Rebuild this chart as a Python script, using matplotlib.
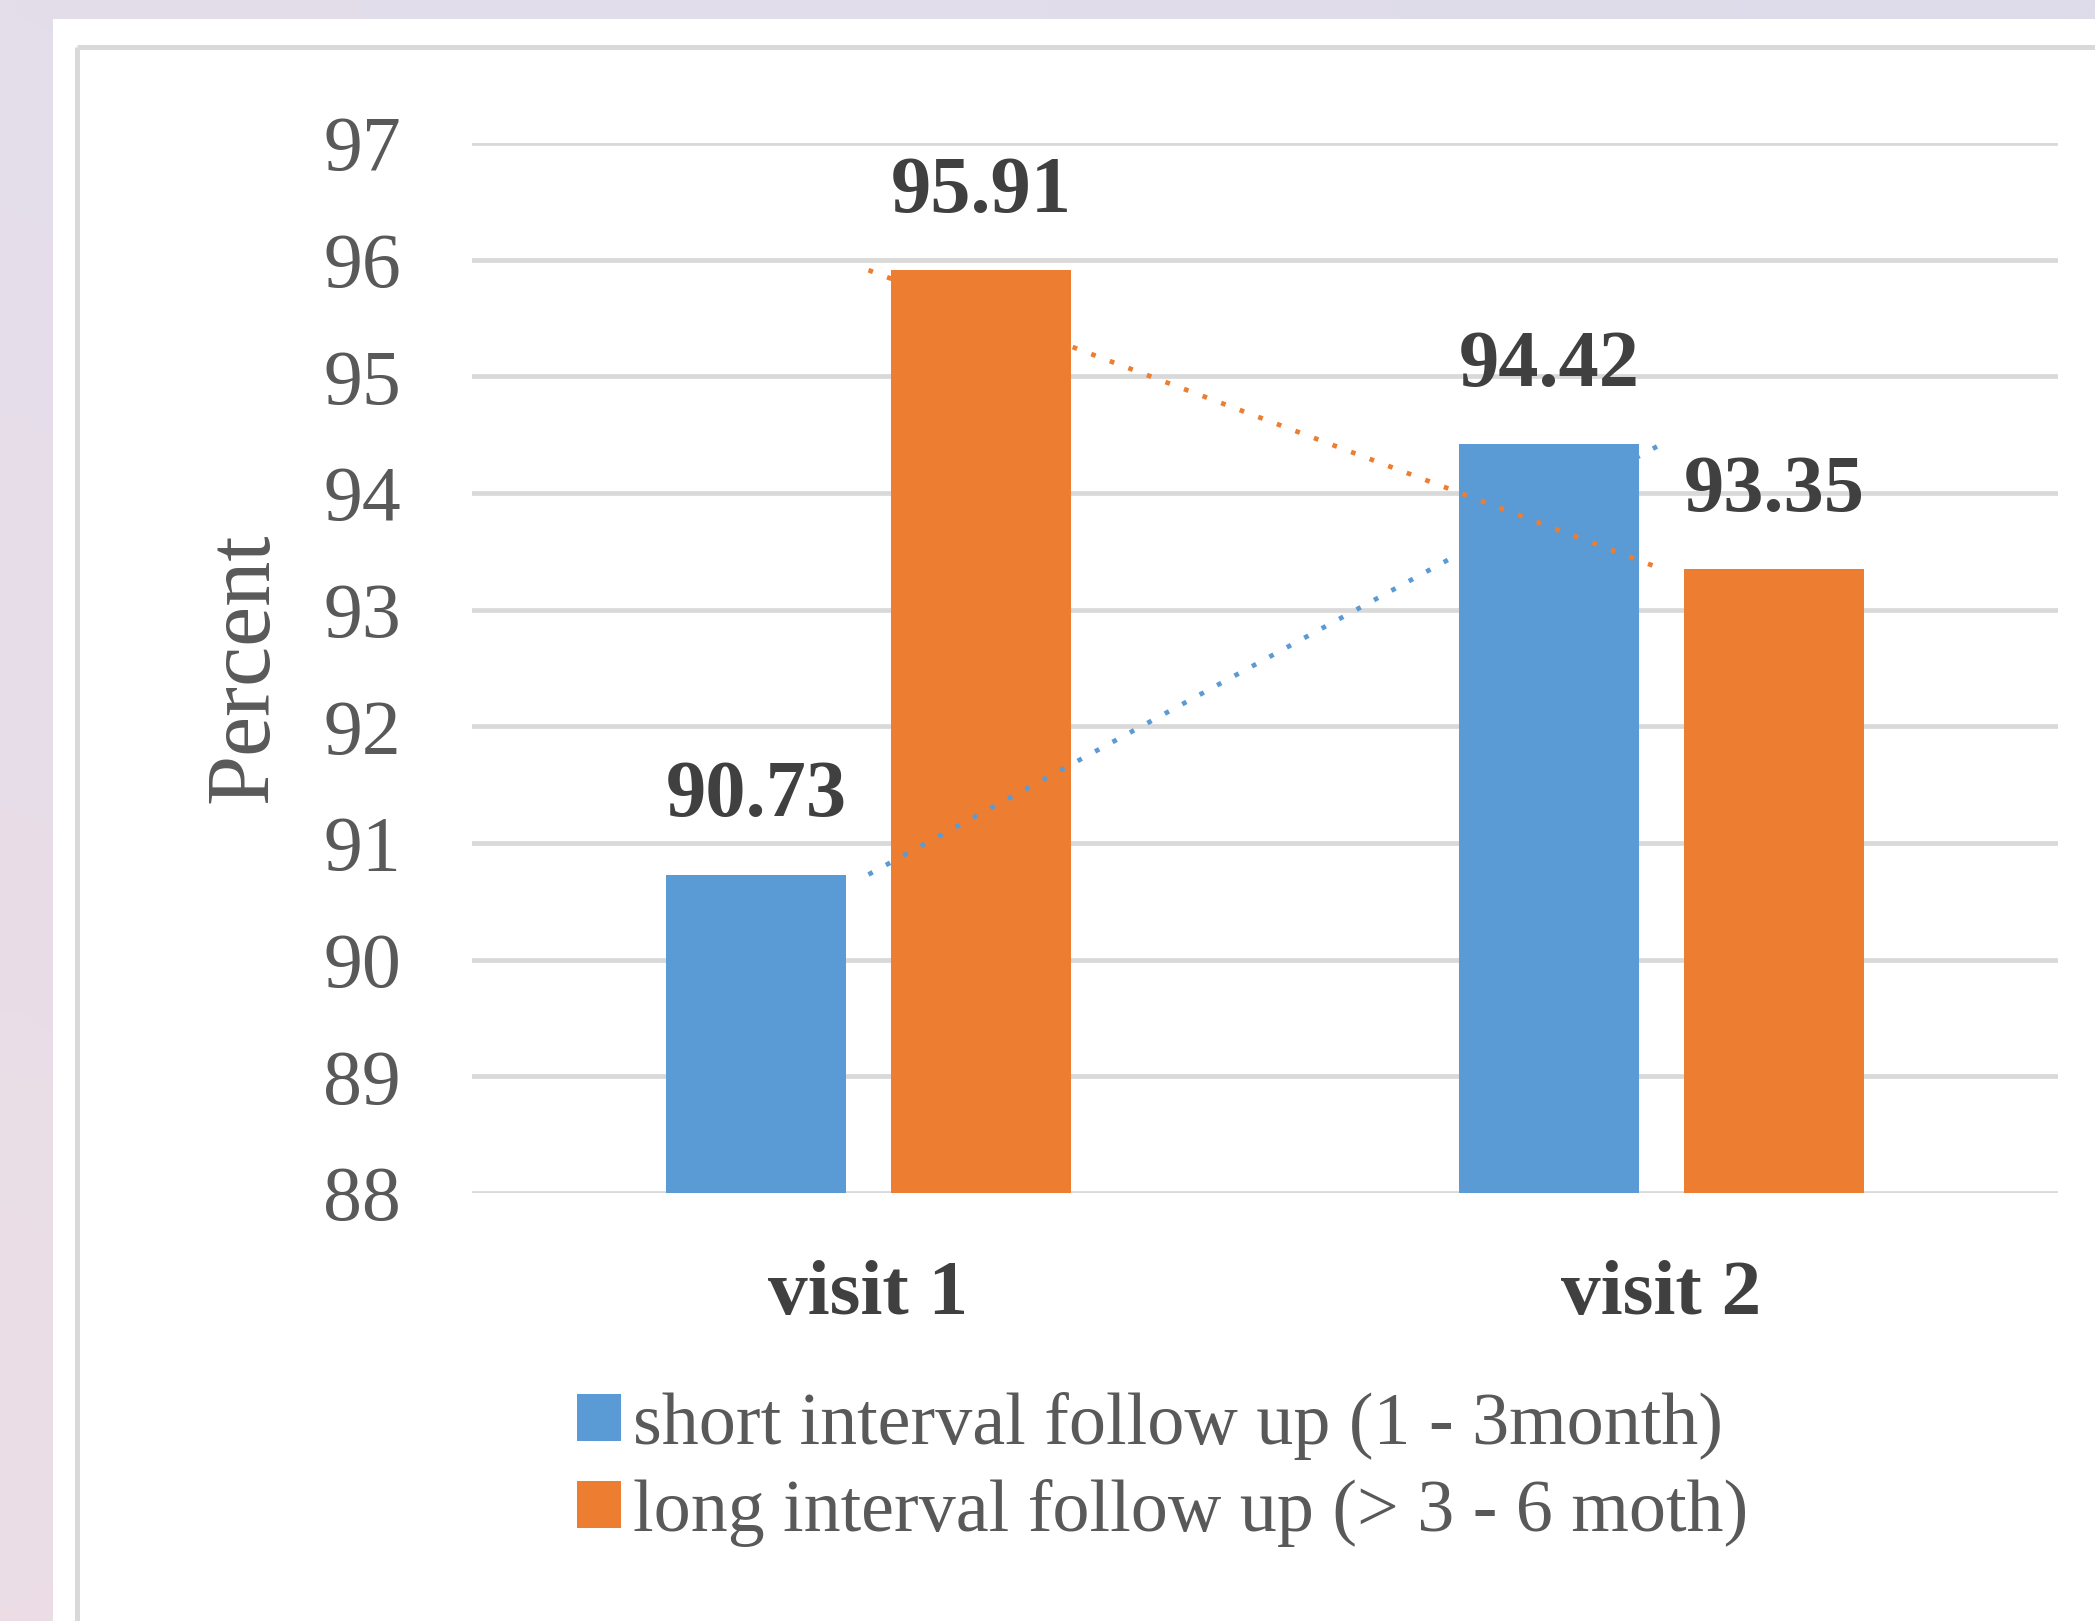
import numpy as np
import matplotlib
matplotlib.use("Agg")
import matplotlib.pyplot as plt
from matplotlib.patches import Rectangle

# ---- data ----
categories = ["visit 1", "visit 2"]
series_names = ["short interval follow up (1 - 3month)",
                "long interval follow up (> 3 - 6 moth)"]
short_interval = [90.73, 94.42]
long_interval = [95.91, 93.35]
y_ticks = [88, 89, 90, 91, 92, 93, 94, 95, 96, 97]

BLUE = "#5B9BD5"
ORANGE = "#ED7D31"
GRID = "#D9D9D9"
TXT = "#595959"
TXT_DARK = "#404040"

plt.rcParams["font.family"] = ["Liberation Serif", "DejaVu Serif"]

W, H = 2095, 1621
fig = plt.figure(figsize=(W / 100, H / 100), dpi=100)

# ---- page background: soft lavender gradient, white card, grey frame ----
bg = fig.add_axes([0, 0, 1, 1], zorder=-10)
bg.set_xlim(0, W)
bg.set_ylim(H, 0)
bg.axis("off")
tl = np.array([0xE4, 0xDE, 0xEB]) / 255
tr = np.array([0xDE, 0xDC, 0xEA]) / 255
bl = np.array([0xEC, 0xDD, 0xE5]) / 255
br = np.array([0xE5, 0xDC, 0xE8]) / 255
u = np.linspace(0, 1, 64)[None, :, None]
v = np.linspace(0, 1, 64)[:, None, None]
grad = (1 - v) * ((1 - u) * tl + u * tr) + v * ((1 - u) * bl + u * br)
bg.imshow(grad, extent=(0, W, H, 0), aspect="auto", interpolation="bilinear")
bg.add_patch(Rectangle((53, 19), W, H, facecolor="white", edgecolor="none"))
bg.plot([76.5, 76.5], [46.5, H + 10], color=GRID, lw=3.6, solid_capstyle="butt")
bg.plot([76.5, W + 10], [46.5, 46.5], color=GRID, lw=3.6, solid_capstyle="butt")

# ---- chart ----
ax = fig.add_axes([472 / W, 1 - 1193 / H, (2058 - 472) / W, (1193 - 143) / H])
ax.set_facecolor("none")
x = np.arange(len(categories))
bw = 0.227
off = 0.142
b1 = ax.bar(x - off, short_interval, bw, bottom=0, color=BLUE, zorder=2,
            label=series_names[0])
b2 = ax.bar(x + off, long_interval, bw, bottom=0, color=ORANGE, zorder=2,
            label=series_names[1])

# dotted linear trend per series
dots = (0, (1, 3.2))
ax.plot(x, short_interval, linestyle=dots, color=BLUE, lw=3.4, zorder=3)
ax.plot(x, long_interval, linestyle=dots, color=ORANGE, lw=3.4, zorder=3)

ax.set_xlim(-0.5, len(categories) - 0.5)
ax.set_ylim(y_ticks[0], y_ticks[-1])
ax.set_yticks(y_ticks)
ax.set_xticks(x)
ax.set_xticklabels(categories, fontsize=57, fontweight="bold", color=TXT_DARK)
ax.tick_params(axis="y", length=0, pad=51, labelsize=56, labelcolor=TXT)
ax.tick_params(axis="x", length=0, pad=48)
ax.yaxis.grid(True, color=GRID, lw=3.4, zorder=0)
ax.set_axisbelow(True)
for s in ax.spines.values():
    s.set_visible(False)

for bars, vals in ((b1, short_interval), (b2, long_interval)):
    for rect, val in zip(bars, vals):
        ax.annotate(f"{val:.2f}", (rect.get_x() + rect.get_width() / 2, val),
                    xytext=(0, 56), textcoords="offset points",
                    ha="center", va="center", fontsize=58, fontweight="bold",
                    color=TXT_DARK, zorder=4, annotation_clip=False)

fig.text(245 / W, 1 - 668 / H, "Percent", rotation=90, ha="center", va="center",
         fontsize=65, color=TXT)

leg = fig.legend(handles=[b1, b2], labels=series_names, loc="upper left",
                 bbox_to_anchor=(577 / W, 1 - 1392 / H), frameon=False,
                 fontsize=53.3, handlelength=0.6, handleheight=0.6,
                 handletextpad=0.15, labelspacing=0.25, borderpad=0,
                 borderaxespad=0)
for t in leg.get_texts():
    t.set_color(TXT)

fig.savefig("out.png", dpi=100)
